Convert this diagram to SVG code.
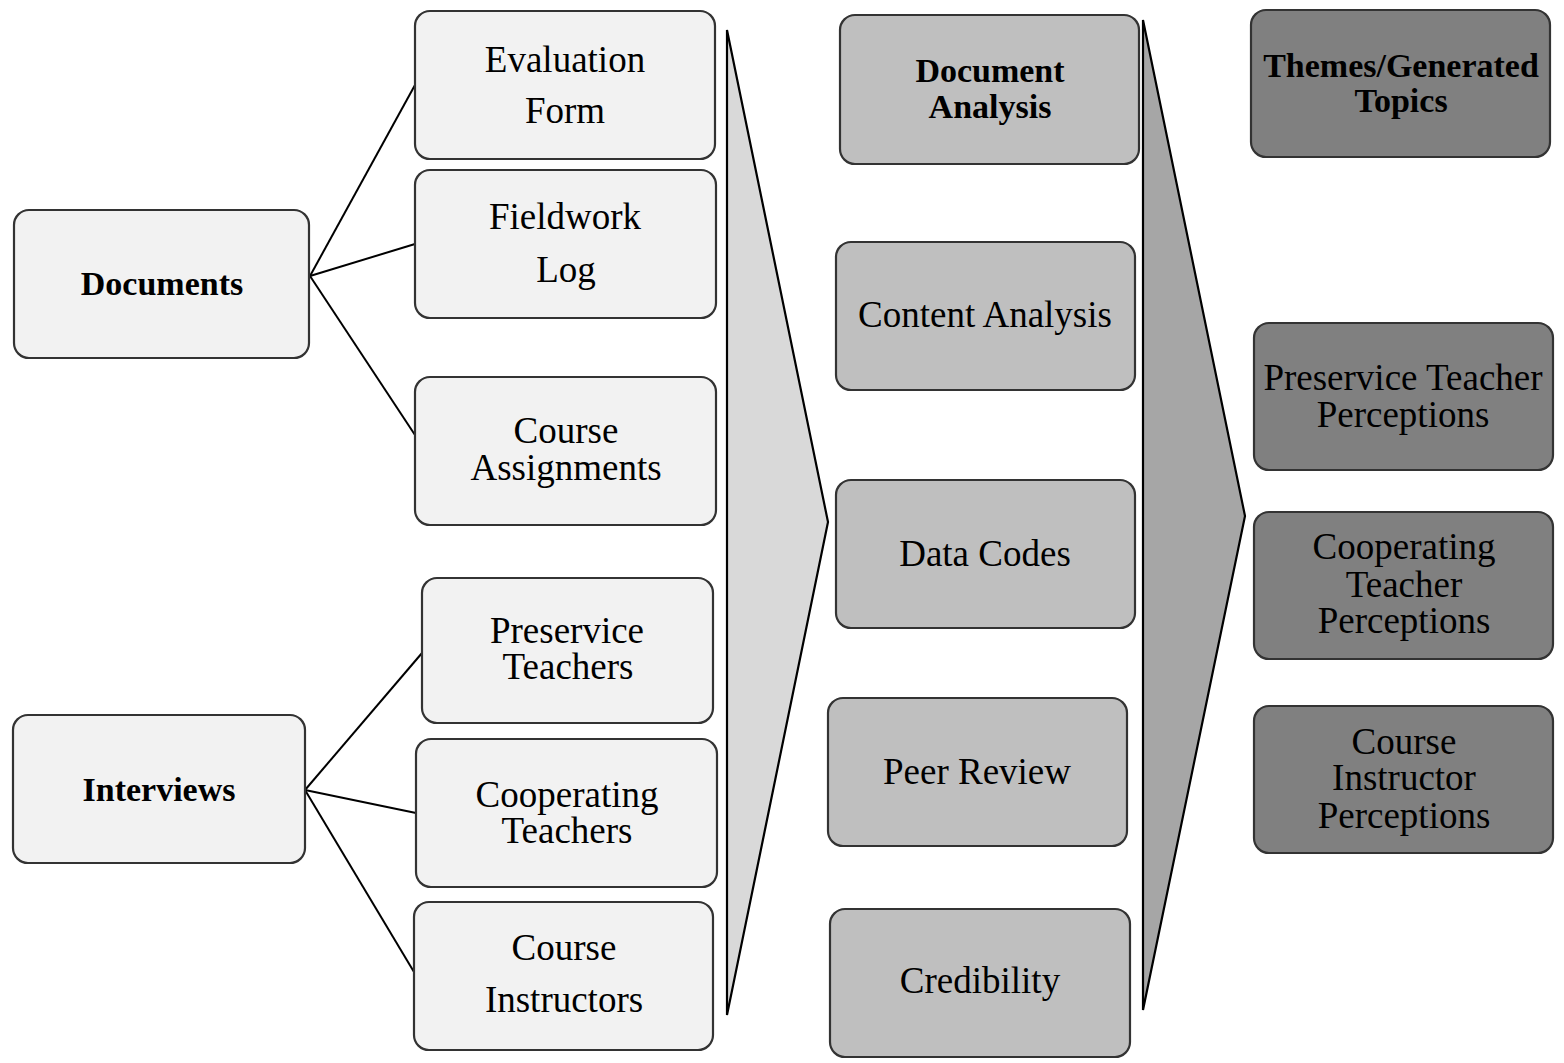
<svg xmlns="http://www.w3.org/2000/svg" width="1564" height="1063" viewBox="0 0 1564 1063">
<style>
.box{stroke:#333;stroke-width:2.2}
.l1{fill:#f2f2f2}
.l2{fill:#bfbfbf}
.l3{fill:#808080}
text{font-family:"Liberation Serif","Times New Roman",serif;text-anchor:middle;fill:#000}
.r{font-size:37px}
.b{font-size:34px;font-weight:bold}
.con line{stroke:#000;stroke-width:2}
.chev{stroke:#000;stroke-width:2.2;stroke-linejoin:miter}
</style>
<rect width="1564" height="1063" fill="#fff"/>
<g id="arrows">
<polygon class="chev" points="727,30 828,522 727,1015" fill="#d9d9d9"/>
<polygon class="chev" points="1143,20 1245,516 1143,1010" fill="#a6a6a6"/>
</g>
<g class="con" id="connectors">
<line x1="310" y1="276" x2="415" y2="85"/>
<line x1="310" y1="276" x2="415" y2="244"/>
<line x1="310" y1="276" x2="415" y2="435"/>
<line x1="305" y1="790" x2="422" y2="653"/>
<line x1="305" y1="790" x2="416" y2="813"/>
<line x1="305" y1="790" x2="414" y2="972"/>
</g>
<g id="documents"><rect class="box l1" x="14" y="210" width="295" height="148" rx="15"/><text class="b" x="162" y="295">Documents</text></g>
<g id="interviews"><rect class="box l1" x="13" y="715" width="292" height="148" rx="15"/><text class="b" x="159" y="801">Interviews</text></g>
<g id="evaluation-form"><rect class="box l1" x="415" y="11" width="300" height="148" rx="15"/><text class="r" x="565" y="72">Evaluation</text><text class="r" x="565" y="123">Form</text></g>
<g id="fieldwork-log"><rect class="box l1" x="415" y="170" width="301" height="148" rx="15"/><text class="r" x="565" y="229">Fieldwork</text><text class="r" x="566" y="282">Log</text></g>
<g id="course-assignments"><rect class="box l1" x="415" y="377" width="301" height="148" rx="15"/><text class="r" x="566" y="443">Course</text><text class="r" x="566" y="480">Assignments</text></g>
<g id="preservice-teachers"><rect class="box l1" x="422" y="578" width="291" height="145" rx="15"/><text class="r" x="567" y="643">Preservice</text><text class="r" x="568" y="679">Teachers</text></g>
<g id="cooperating-teachers"><rect class="box l1" x="416" y="739" width="301" height="148" rx="15"/><text class="r" x="567" y="807">Cooperating</text><text class="r" x="567" y="843">Teachers</text></g>
<g id="course-instructors"><rect class="box l1" x="414" y="902" width="299" height="148" rx="15"/><text class="r" x="564" y="960">Course</text><text class="r" x="564" y="1012">Instructors</text></g>
<g id="document-analysis"><rect class="box l2" x="840" y="15" width="299" height="149" rx="15"/><text class="b" x="990" y="82">Document</text><text class="b" x="990" y="118">Analysis</text></g>
<g id="content-analysis"><rect class="box l2" x="836" y="242" width="299" height="148" rx="15"/><text class="r" x="985" y="327">Content Analysis</text></g>
<g id="data-codes"><rect class="box l2" x="836" y="480" width="299" height="148" rx="15"/><text class="r" x="985" y="566">Data Codes</text></g>
<g id="peer-review"><rect class="box l2" x="828" y="698" width="299" height="148" rx="15"/><text class="r" x="977" y="784">Peer Review</text></g>
<g id="credibility"><rect class="box l2" x="830" y="909" width="300" height="148" rx="15"/><text class="r" x="980" y="993">Credibility</text></g>
<g id="themes"><rect class="box l3" x="1251" y="10" width="299" height="147" rx="15"/><text class="b" x="1401" y="77">Themes/Generated</text><text class="b" x="1401" y="112">Topics</text></g>
<g id="preservice-perceptions"><rect class="box l3" x="1254" y="323" width="299" height="147" rx="15"/><text class="r" x="1403" y="390">Preservice Teacher</text><text class="r" x="1403" y="427">Perceptions</text></g>
<g id="cooperating-perceptions"><rect class="box l3" x="1254" y="512" width="299" height="147" rx="15"/><text class="r" x="1404" y="559">Cooperating</text><text class="r" x="1404" y="597">Teacher</text><text class="r" x="1404" y="633">Perceptions</text></g>
<g id="instructor-perceptions"><rect class="box l3" x="1254" y="706" width="299" height="147" rx="15"/><text class="r" x="1404" y="754">Course</text><text class="r" x="1404" y="790">Instructor</text><text class="r" x="1404" y="828">Perceptions</text></g>
</svg>
